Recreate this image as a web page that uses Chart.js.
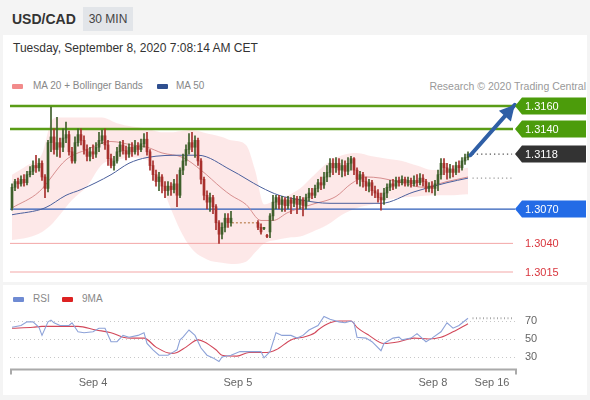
<!DOCTYPE html>
<html>
<head>
<meta charset="utf-8">
<script src="https://cdn.jsdelivr.net/npm/chart.js"></script>
<style>
  html,body{margin:0;padding:0}
  body{width:590px;height:400px;background:#f4f4f4;position:relative;overflow:hidden;font-family:"Liberation Sans",Arial,sans-serif}
  .abs{position:absolute;white-space:nowrap}
  #panel1{left:3px;top:35px;width:584px;height:247px;background:#fff}
  #panel2{left:3px;top:285px;width:584px;height:110px;background:#fff}
  #pair{left:12px;top:10px;font-weight:bold;font-size:14px;line-height:18px;color:#333}
  #tf{left:83px;top:7px;width:50px;height:24px;background:#e2e5e9;color:#444;font-size:12px;line-height:24px;text-align:center}
  #date{left:13px;top:41px;font-size:12px;line-height:14px;color:#333}
  .leg{font-size:10px;line-height:12px;color:#888}
  .sw{height:5px;width:11px;border-radius:1px}
  #c1{left:0;top:0}
  #c2{left:0;top:283px}
</style>
</head>
<body>
<div class="abs" id="panel1"></div>
<div class="abs" id="panel2"></div>
<div class="abs" id="pair">USD/CAD</div>
<div class="abs" id="tf">30 MIN</div>
<div class="abs" id="date">Tuesday, September 8, 2020 7:08:14 AM CET</div>

<div class="abs sw" style="left:12px;top:84px;background:#f28b8b"></div>
<div class="abs leg" style="left:33px;top:80px">MA 20 + Bollinger Bands</div>
<div class="abs sw" style="left:157px;top:84px;background:#2f4f8f"></div>
<div class="abs leg" style="left:176px;top:80px">MA 50</div>
<div class="abs leg" style="right:4px;top:80px;color:#999;font-size:10.5px">Research © 2020 Trading Central</div>

<div class="abs sw" style="left:13px;top:297px;background:#6f8bd3"></div>
<div class="abs leg" style="left:33px;top:293px">RSI</div>
<div class="abs sw" style="left:62px;top:297px;background:#dd2222"></div>
<div class="abs leg" style="left:82px;top:293px">9MA</div>

<canvas class="abs" id="c1" width="590" height="283"></canvas>
<canvas class="abs" id="c2" width="590" height="117"></canvas>

<script>
// ---------- DATA (30-min candles, index 0..152) ----------
const opens = [
1.3071,1.3089,1.3094,1.3092,1.3096,1.3093,1.3100,1.3103,1.3108,1.3106,
1.3110,1.3098,1.3088,1.3128,1.3133,1.3122,1.3128,1.3124,1.3132,1.3135,
1.3120,1.3112,1.3128,1.3135,1.3130,1.3122,1.3116,1.3120,1.3118,1.3124,
1.3130,1.3134,1.3126,1.3114,1.3108,1.3112,1.3120,1.3126,1.3121,1.3118,
1.3124,1.3120,1.3125,1.3122,1.3127,1.3131,1.3120,1.3108,1.3100,1.3094,
1.3098,1.3090,1.3086,1.3090,1.3087,1.3092,1.3082,1.3104,1.3112,1.3122,
1.3128,1.3124,1.3130,1.3112,1.3096,1.3082,1.3076,1.3080,1.3072,1.3058,
1.3048,1.3054,1.3062,1.3058,null,null,null,null,null,null,
null,null,1.3058,1.3054,1.3053,1.3047,1.3050,1.3064,1.3076,1.3080,
1.3074,1.3078,1.3073,1.3078,1.3075,1.3079,1.3074,1.3078,1.3073,1.3080,
1.3084,1.3082,1.3088,1.3093,1.3091,1.3098,1.3102,1.3110,1.3106,1.3110,
1.3104,1.3108,1.3103,1.3110,1.3114,1.3104,1.3096,1.3100,1.3094,1.3090,
1.3093,1.3086,1.3084,1.3080,1.3078,1.3084,1.3089,1.3092,1.3090,1.3095,
1.3093,1.3096,1.3093,1.3095,1.3092,1.3095,1.3093,1.3097,1.3094,1.3088,
1.3090,1.3088,1.3092,1.3100,1.3110,1.3106,1.3102,1.3105,1.3102,1.3108,
1.3106,1.3112,1.3115];
const highs = [
1.3092,1.3096,1.3097,1.3099,1.3100,1.3103,1.3107,1.3112,1.3117,1.3114,
1.3112,1.3100,1.3130,1.3159,1.3140,1.3150,1.3132,1.3140,1.3146,1.3138,
1.3124,1.3133,1.3140,1.3140,1.3134,1.3126,1.3124,1.3126,1.3128,1.3137,
1.3139,1.3140,1.3130,1.3118,1.3116,1.3124,1.3129,1.3130,1.3125,1.3127,
1.3128,1.3130,1.3128,1.3131,1.3136,1.3137,1.3122,1.3112,1.3104,1.3102,
1.3100,1.3094,1.3094,1.3093,1.3096,1.3100,1.3106,1.3118,1.3126,1.3136,
1.3137,1.3134,1.3132,1.3114,1.3098,1.3086,1.3084,1.3082,1.3074,1.3060,
1.3058,1.3066,1.3066,1.3068,null,null,null,null,null,null,
null,null,1.3060,1.3057,1.3054,1.3048,1.3066,1.3082,1.3082,1.3082,
1.3081,1.3080,1.3081,1.3080,1.3082,1.3081,1.3081,1.3080,1.3083,1.3088,
1.3088,1.3091,1.3096,1.3098,1.3102,1.3108,1.3114,1.3114,1.3115,1.3114,
1.3113,1.3112,1.3115,1.3116,1.3115,1.3106,1.3103,1.3102,1.3098,1.3096,
1.3095,1.3090,1.3087,1.3084,1.3088,1.3092,1.3095,1.3096,1.3098,1.3098,
1.3099,1.3098,1.3098,1.3097,1.3099,1.3100,1.3101,1.3100,1.3096,1.3093,
1.3094,1.3095,1.3104,1.3114,1.3114,1.3110,1.3109,1.3108,1.3111,1.3112,
1.3115,1.3118,1.3120];
const lows = [
1.3069,1.3086,1.3088,1.3090,1.3090,1.3091,1.3098,1.3100,1.3102,1.3103,
1.3095,1.3080,1.3085,1.3120,1.3118,1.3116,1.3115,1.3120,1.3128,1.3117,
1.3110,1.3110,1.3125,1.3126,1.3118,1.3112,1.3112,1.3114,1.3115,1.3120,
1.3127,1.3122,1.3108,1.3106,1.3104,1.3110,1.3116,1.3118,1.3113,1.3115,
1.3116,1.3118,1.3117,1.3120,1.3124,1.3117,1.3104,1.3095,1.3090,1.3086,
1.3084,1.3080,1.3082,1.3082,1.3084,1.3072,1.3080,1.3100,1.3108,1.3118,
1.3120,1.3115,1.3108,1.3092,1.3078,1.3070,1.3068,1.3066,1.3052,1.3040,
1.3044,1.3050,1.3054,1.3055,null,null,null,null,null,null,
null,null,1.3052,1.3048,1.3052,1.3045,1.3045,1.3060,1.3070,1.3070,
1.3068,1.3068,1.3070,1.3066,1.3072,1.3066,1.3070,1.3064,1.3070,1.3077,
1.3079,1.3080,1.3085,1.3087,1.3088,1.3094,1.3098,1.3100,1.3102,1.3100,
1.3098,1.3099,1.3100,1.3104,1.3100,1.3092,1.3090,1.3089,1.3086,1.3085,
1.3082,1.3080,1.3076,1.3069,1.3074,1.3080,1.3086,1.3087,1.3088,1.3090,
1.3091,1.3090,1.3090,1.3089,1.3090,1.3090,1.3091,1.3090,1.3085,1.3085,
1.3084,1.3082,1.3086,1.3096,1.3100,1.3096,1.3097,1.3098,1.3100,1.3102,
1.3104,1.3109,1.3113];
const closes = [
1.3089,1.3094,1.3092,1.3096,1.3093,1.3100,1.3103,1.3108,1.3106,1.3110,
1.3098,1.3088,1.3128,1.3133,1.3122,1.3128,1.3124,1.3132,1.3135,1.3120,
1.3112,1.3128,1.3135,1.3130,1.3122,1.3116,1.3120,1.3118,1.3124,1.3130,
1.3134,1.3126,1.3114,1.3108,1.3112,1.3120,1.3126,1.3121,1.3118,1.3124,
1.3120,1.3125,1.3122,1.3127,1.3131,1.3120,1.3108,1.3100,1.3094,1.3098,
1.3090,1.3086,1.3090,1.3087,1.3092,1.3082,1.3104,1.3112,1.3122,1.3128,
1.3124,1.3130,1.3112,1.3096,1.3082,1.3076,1.3080,1.3072,1.3058,1.3048,
1.3054,1.3062,1.3058,1.3062,null,null,null,null,null,null,
null,null,1.3054,1.3050,1.3053,1.3046,1.3064,1.3076,1.3080,1.3074,
1.3078,1.3073,1.3078,1.3075,1.3079,1.3074,1.3078,1.3073,1.3080,1.3084,
1.3082,1.3088,1.3093,1.3091,1.3098,1.3102,1.3110,1.3106,1.3110,1.3104,
1.3108,1.3103,1.3110,1.3114,1.3104,1.3096,1.3100,1.3094,1.3090,1.3093,
1.3086,1.3084,1.3080,1.3078,1.3084,1.3089,1.3092,1.3090,1.3095,1.3093,
1.3096,1.3093,1.3095,1.3092,1.3095,1.3093,1.3097,1.3094,1.3088,1.3090,
1.3088,1.3092,1.3100,1.3110,1.3106,1.3102,1.3105,1.3102,1.3108,1.3106,
1.3112,1.3115,1.3118];

// Bollinger bands (read at candle indices)
const bandIdx   = [0,5,10,13,15,20,25,30,35,40,45,48,50,53,56,60,65,70,73,78,81,84,88,92,96,100,105,110,115,120,125,130,135,140,145,152];
const bandUpper = [1.3100,1.3108,1.3118,1.3146,1.3150,1.3150,1.3150,1.3150,1.3145,1.3142,1.3140,1.3138,1.3137,1.3137,1.3138,1.3139,1.3136,1.3133,1.3130,1.3126,1.3104,1.3074,1.3078,1.3082,1.3088,1.3098,1.3110,1.3117,1.3119,1.3116,1.3114,1.3112,1.3108,1.3104,1.3104,1.3106];
const bandLower = [1.3043,1.3045,1.3050,1.3056,1.3062,1.3078,1.3090,1.3109,1.3113,1.3115,1.3113,1.3100,1.3090,1.3070,1.3052,1.3035,1.3026,1.3023,1.3022,1.3024,1.3032,1.3040,1.3043,1.3045,1.3046,1.3050,1.3056,1.3065,1.3071,1.3074,1.3078,1.3080,1.3081,1.3082,1.3082,1.3083];

// MA 20
const ma20Idx = [0,9,18,25,33,40,45,50,57,63,70,73,78,83,87,92,100,108,113,118,123,130,137,145,152];
const ma20    = [1.3071,1.3085,1.3113,1.3122,1.3129,1.3126,1.3124,1.3119,1.3115,1.3104,1.3088,1.3082,1.3074,1.3060,1.3060,1.3067,1.3074,1.3081,1.3092,1.3098,1.3097,1.3093,1.3089,1.3094,1.3098];

// MA 50
const ma50Idx = [0,11,18,23,33,39,45,57,62,73,83,89,96,106,114,123,134,145,152];
const ma50    = [1.3065,1.3071,1.3082,1.3087,1.3100,1.3110,1.3115,1.3117,1.3117,1.3104,1.3089,1.3082,1.3078,1.3075,1.3075,1.3075,1.3085,1.3093,1.3097];

// Key levels
const levelValues = [1.3160, 1.3140, 1.3118, 1.3070, 1.3040, 1.3015];
const lastPrice = 1.3118;
const projMA = 1.3097;
const gapLevel = 1.3058;
const gapIdx = [73.3, 82];
const arrowFrom = {x: 152.8, y: 1.3117};
const arrowTo   = {x: 167.6, y: 1.3161};

// RSI (14) and its 9-period MA
const rsiIdx = [0,3,5,7,9,10,12,13,14,16,19,20,22,24,27,29,31,33,35,37,39,42,44,45,47,49,52,54,55,56,57,59,61,63,65,67,69,70,73,76,79,83,84,86,88,90,93,95,97,99,102,104,106,109,111,113,114,115,118,120,123,124,127,129,130,133,135,138,140,143,145,147,149,152];
const rsiVals = [63,65,69,69,63,54,69,71,68,65,65,68,58,57,58,62,62,47,47,54,52,54,57,45,38,32,32,36,38,49,52,60,54,40,32,29,25,30,32,36,36,36,29,36,57,54,54,51,54,60,65,75,72,69,68,70,68,52,51,47,37,45,51,52,49,51,56,47,51,58,68,62,65,73];
const rsiMaIdx = [0,7,10,20,22,28,33,37,40,44,48,53,55,58,62,64,68,70,75,79,85,88,93,95,97,101,102,106,109,113,115,119,124,129,134,139,143,147,152];
const rsiMaVals = [62,63,64,64,64,60,57,52,51,51,41,34,35,41,49,47,38,32,31,35,35,38,49,51,52,57,60,68,70,70,63,54,45,47,51,50,52,58,67];
const rsiTicks = [30, 50, 70];

// X-axis ticks (candle index where each date label sits)
const dateTickIdx = [27, 75.3, 140.3, 160];
const dateTickLabels = ['Sep 4', 'Sep 5', 'Sep 8', 'Sep 16'];

// ---------- STYLE / LAYOUT ----------
const FONT = '"Liberation Sans", Arial, sans-serif';
Chart.defaults.font.family = FONT;
const X_MIN = -2/3, X_MAX = 503/3;
const LINE_END = 167;
const UP = '#3f5f2b', DOWN = '#a8302d';

const pts = (idx, vals) => idx.map((k, j) => ({x: k, y: vals[j]}));
const hline = (v, x0, x1) => [{x: x0, y: v}, {x: x1, y: v}];

const wickData = [], wickColors = [], bodyData = [], bodyColors = [];
opens.forEach((o, i) => {
  if (o === null) return;
  const c = closes[i] >= o ? UP : DOWN;
  wickData.push({x: i, y: [lows[i], highs[i]]});
  wickColors.push(c);
  bodyData.push({x: i, y: [o, closes[i]]});
  bodyColors.push(c);
});

const levelStyle = [
  {line: '#5a9c16', width: 2.5, bg: '#4c9c0b', text: '#fff', end: LINE_END},
  {line: '#5a9c16', width: 2.5, bg: '#4c9c0b', text: '#fff', end: LINE_END},
  {line: null,      width: 0,   bg: '#333333', text: '#fff', end: LINE_END},
  {line: '#2d5cb8', width: 1.2, bg: '#236be6', text: '#fff', end: X_MAX},
  {line: '#f3a7a7', width: 1,   bg: null,      text: '#d9363e', end: LINE_END},
  {line: '#f3a7a7', width: 1,   bg: null,      text: '#d9363e', end: LINE_END}
];

const lineBase = {type: 'line', pointRadius: 0, fill: false, clip: false};
const datasets = [];
datasets.push(Object.assign({}, lineBase, {data: pts(bandIdx, bandUpper), borderWidth: 0, borderColor: 'rgba(0,0,0,0)', tension: 0.4, cubicInterpolationMode: 'monotone', order: 20}));
datasets.push(Object.assign({}, lineBase, {data: pts(bandIdx, bandLower), borderWidth: 0, borderColor: 'rgba(0,0,0,0)', fill: '-1', backgroundColor: 'rgba(250,185,185,0.32)', tension: 0.4, cubicInterpolationMode: 'monotone', order: 19}));
levelValues.forEach((v, k) => {
  const s = levelStyle[k];
  if (!s.line) return;
  datasets.push(Object.assign({}, lineBase, {data: hline(v, X_MIN, s.end), borderColor: s.line, borderWidth: s.width, order: 15}));
});
datasets.push(Object.assign({}, lineBase, {data: hline(gapLevel, gapIdx[0], gapIdx[1]), borderColor: '#c8956e', borderWidth: 1.5, borderDash: [2, 2], order: 14}));
datasets.push(Object.assign({}, lineBase, {data: pts(ma20Idx, ma20), borderColor: 'rgba(205,120,120,0.8)', borderWidth: 1, tension: 0.4, cubicInterpolationMode: 'monotone', order: 12}));
datasets.push(Object.assign({}, lineBase, {data: pts(ma50Idx, ma50), borderColor: '#4a5f9c', borderWidth: 1, tension: 0.4, cubicInterpolationMode: 'monotone', order: 11}));
datasets.push({type: 'bar', data: wickData, backgroundColor: wickColors, barThickness: 1, grouped: false, order: 6, clip: false});
datasets.push({type: 'bar', data: bodyData, backgroundColor: bodyColors, barThickness: 2, minBarLength: 1, grouped: false, order: 5, clip: false});
datasets.push(Object.assign({}, lineBase, {data: hline(lastPrice, 153.5, 166.7), borderColor: '#555', borderWidth: 1.3, borderDash: [1.3, 3], order: 4}));
datasets.push(Object.assign({}, lineBase, {data: hline(projMA, 153.5, 166.7), borderColor: '#999', borderWidth: 1.2, borderDash: [1.2, 3], order: 4}));
datasets.push(Object.assign({}, lineBase, {data: [arrowFrom, arrowTo], borderColor: '#2f5fa6', borderWidth: 4, borderCapStyle: 'round', order: 1}));

const labelPlugin = {
  id: 'levelLabels',
  afterDatasetsDraw(chart) {
    const {ctx, chartArea, scales: {x, y}} = chart;
    const x0 = x.getPixelForValue(arrowFrom.x), y0 = y.getPixelForValue(arrowFrom.y);
    const x1 = x.getPixelForValue(arrowTo.x),   y1 = y.getPixelForValue(arrowTo.y);
    const a = Math.atan2(y1 - y0, x1 - x0), L = 15, W = 8;
    ctx.save();
    ctx.fillStyle = '#2f5fa6';
    ctx.beginPath();
    ctx.moveTo(x1, y1);
    ctx.lineTo(x1 - L*Math.cos(a) + W*Math.sin(a), y1 - L*Math.sin(a) - W*Math.cos(a));
    ctx.lineTo(x1 - L*Math.cos(a) - W*Math.sin(a), y1 - L*Math.sin(a) + W*Math.cos(a));
    ctx.closePath(); ctx.fill();
    const left = chartArea.right, right = 586, h = 8.5;
    ctx.font = '11px ' + FONT;
    ctx.textBaseline = 'middle';
    levelValues.forEach((v, k) => {
      const s = levelStyle[k];
      const py = Math.round(y.getPixelForValue(v));
      if (s.bg) {
        ctx.fillStyle = s.bg;
        ctx.beginPath();
        ctx.moveTo(left, py);
        ctx.lineTo(left + 7, py - h);
        ctx.lineTo(right, py - h);
        ctx.lineTo(right, py + h);
        ctx.lineTo(left + 7, py + h);
        ctx.closePath(); ctx.fill();
      }
      ctx.fillStyle = s.text;
      ctx.fillText(v.toFixed(4), left + 10, py + 0.5);
    });
    ctx.restore();
  }
};

new Chart(document.getElementById('c1'), {
  type: 'bar',
  data: {datasets},
  options: {
    responsive: false, animation: false, events: [],
    layout: {padding: {left: 10, right: 75, top: 106, bottom: 11}},
    scales: {
      x: {type: 'linear', min: X_MIN, max: X_MAX, offset: false, display: false},
      y: {type: 'linear', min: 1.3015, max: 1.3160, display: false}
    },
    plugins: {legend: {display: false}, tooltip: {enabled: false}}
  },
  plugins: [labelPlugin]
});

// ---------- RSI panel ----------
const rsiPlugin = {
  id: 'rsiDeco',
  beforeDatasetsDraw(chart) {
    const {ctx, chartArea, scales: {y}} = chart;
    ctx.save();
    ctx.strokeStyle = '#c8c8c8'; ctx.lineWidth = 1; ctx.setLineDash([1, 3]);
    rsiTicks.forEach(t => {
      const py = Math.round(y.getPixelForValue(t)) + 0.5;
      ctx.beginPath(); ctx.moveTo(chartArea.left, py); ctx.lineTo(chartArea.right, py); ctx.stroke();
    });
    ctx.restore();
  },
  afterDatasetsDraw(chart) {
    const {ctx, chartArea, scales: {x, y}} = chart;
    ctx.save();
    ctx.font = '11px ' + FONT; ctx.textBaseline = 'middle'; ctx.fillStyle = '#666';
    rsiTicks.forEach(t => ctx.fillText(String(t), chartArea.right + 10, y.getPixelForValue(t)));
    const ay = chartArea.bottom + 12.5;
    ctx.strokeStyle = '#aaa'; ctx.lineWidth = 2;
    ctx.beginPath();
    ctx.moveTo(chartArea.left + 1, ay + 5); ctx.lineTo(chartArea.left + 1, ay);
    ctx.lineTo(chartArea.right + 1, ay); ctx.lineTo(chartArea.right + 1, ay + 5);
    ctx.stroke();
    ctx.textAlign = 'center'; ctx.fillStyle = '#666';
    dateTickIdx.forEach((t, k) => ctx.fillText(dateTickLabels[k], x.getPixelForValue(t), ay + 13));
    ctx.restore();
  }
};

const lastRsi = rsiVals[rsiVals.length - 1];
new Chart(document.getElementById('c2'), {
  type: 'line',
  data: {datasets: [
    {data: pts(rsiIdx, rsiVals), borderColor: '#8da2d8', borderWidth: 1.1, pointRadius: 0, tension: 0, clip: false},
    {data: pts(rsiMaIdx, rsiMaVals), borderColor: '#d2485a', borderWidth: 1.1, pointRadius: 0, tension: 0.35, cubicInterpolationMode: 'monotone', clip: false},
    {data: hline(lastRsi, 153.5, 166.7), borderColor: '#aaa', borderWidth: 2, borderDash: [1, 2.5], pointRadius: 0, clip: false}
  ]},
  options: {
    responsive: false, animation: false, events: [],
    layout: {padding: {left: 10, right: 75, top: 38, bottom: 43}},
    scales: {
      x: {type: 'linear', min: X_MIN, max: X_MAX, display: false},
      y: {type: 'linear', min: 30, max: 70, display: false}
    },
    plugins: {legend: {display: false}, tooltip: {enabled: false}}
  },
  plugins: [rsiPlugin]
});
</script>
</body>
</html>
